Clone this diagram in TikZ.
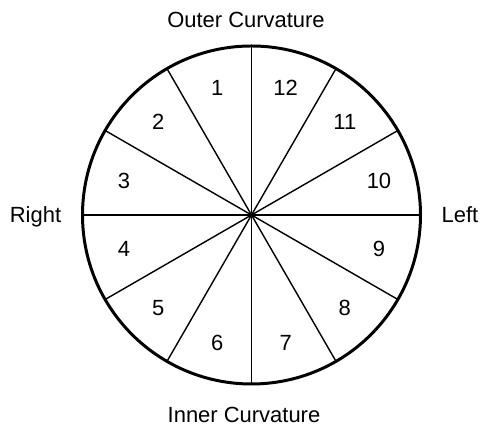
\documentclass[tikz,border=0pt]{standalone}
\usepackage{fontspec}
\setmainfont{Liberation Sans}
\usetikzlibrary{positioning}

\begin{document}
\begin{tikzpicture}[
            x=0.02cm, y=0.02cm,
            rim/.style={draw, line width=1.7pt},
            spoke/.style={draw, line width=0.8pt},
            side/.style={font=\fontsize{12.5}{15}\selectfont, inner sep=0pt, anchor=base},
            seg/.style={font=\fontsize{12.5}{15}\selectfont, inner sep=0pt}
        ]
            \useasboundingbox (0,0) rectangle (481,428);

            % --- CENTRO ---
            \coordinate (c) at (251.5,213);

            % --- SEGMENTOS ---
            \foreach \a in {0,30,...,330}
                \draw[spoke] (c) -- ++(\a:169);
            \draw[rim] (c) circle[radius=169];

            % --- NUMEROS ---
            \foreach \k in {1,...,12}
                \path (c) ++({105+30*(\k-1)}:132) node[seg] (s\k) {\k};

            % --- LADOS ---
            \node[side] (outer) at (246,400) {Outer Curvature};
            \node[side] (inner) at (244,5) {Inner Curvature};
            \node[side] (right) at (35.5,205) {Right};
            \node[side] (left) at (460,205) {Left};
        \end{tikzpicture}
\end{document}
